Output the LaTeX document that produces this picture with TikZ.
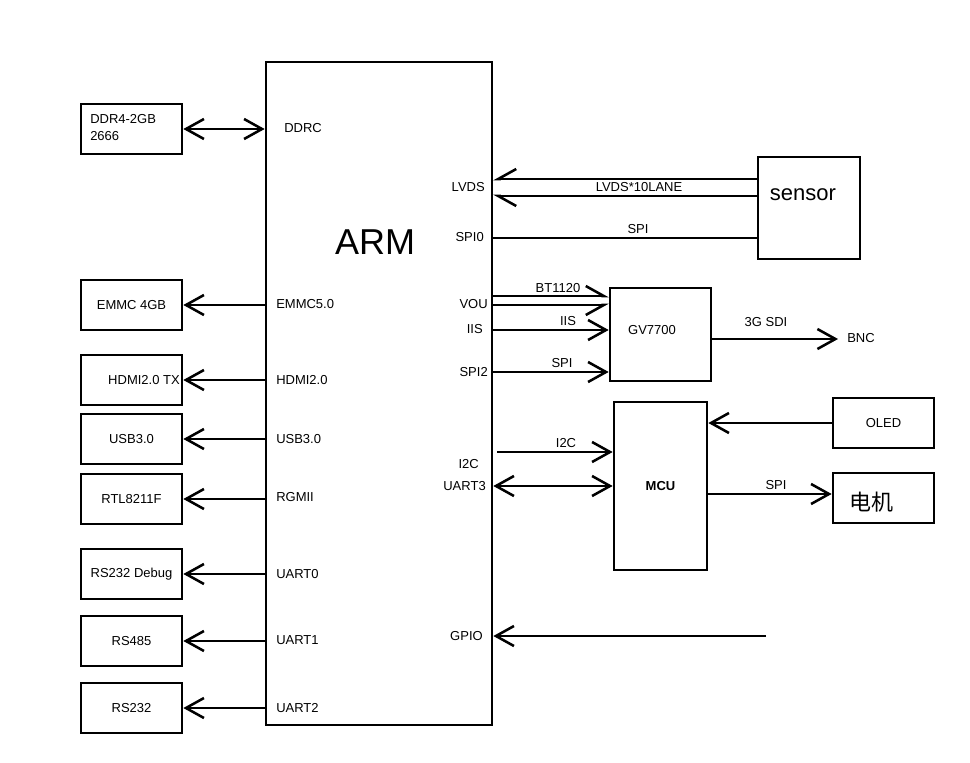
\documentclass[tikz,border=0pt]{standalone}
\usepackage{fontspec}
\setmainfont{Liberation Sans}
\newfontfamily\cjk{Noto Sans CJK SC}
\usetikzlibrary{arrows.meta,calc}
\begin{document}
\begin{tikzpicture}[x=0.75pt,y=-0.75pt,
  line width=1.9pt,
  lbl/.style={font=\fontsize{9.75pt}{11pt}\selectfont, inner sep=0pt},
  box/.style={draw, line width=2pt, rectangle, inner sep=0pt, font=\fontsize{9.75pt}{11pt}\selectfont},
  sz/.style 2 args={minimum width=#1*0.75pt, minimum height=#2*0.75pt},
  tip/.tip={Straight Barb[length=13.5pt,width=15pt,line width=1.9pt]},
  arr/.style={-tip},
  darr/.style={tip-tip},
  arrl/.style={-{Straight Barb[length=13.5pt,width=15pt,line width=1.9pt,left]}},
  arrr/.style={-{Straight Barb[length=13.5pt,width=15pt,line width=1.9pt,right]}}]
\useasboundingbox (0,0) rectangle (970,763);

% ARM
\node[box, sz={226}{663}] (arm) at (379,393.5) {};
\node[font=\fontsize{27pt}{30pt}\selectfont, inner sep=0pt] (armt) at (375,242) {ARM};

% left boxes
\node[box, sz={101}{50}] (ddr) at (131.5,129) {};
\node[lbl, anchor=west, align=left, font=\fontsize{9.75pt}{12.75pt}\selectfont] (ddrt) at (89,128) {DDR4-2GB\\2666};
\node[box, sz={101}{50}] (emmc) at (131.5,305) {EMMC 4GB};
\node[box, sz={101}{50}] (hdmi) at (131.5,380) {};
\node[lbl] (hdmit) at (144,380) {HDMI2.0 TX};
\node[box, sz={101}{50}] (usb) at (131.5,439) {USB3.0};
\node[box, sz={101}{50}] (rtl) at (131.5,499) {RTL8211F};
\node[box, sz={101}{50}] (dbg) at (131.5,574) {RS232 Debug};
\node[box, sz={101}{50}] (r485) at (131.5,641) {RS485};
\node[box, sz={101}{50}] (r232) at (131.5,708) {RS232};

% left connectors
\draw[darr] (ddr.east) -- (arm.west |- ddr.east);
\draw[arr] (arm.west |- emmc.east) -- (emmc.east);
\draw[arr] (arm.west |- hdmi.east) -- (hdmi.east);
\draw[arr] (arm.west |- usb.east) -- (usb.east);
\draw[arr] (arm.west |- rtl.east) -- (rtl.east);
\draw[arr] (arm.west |- dbg.east) -- (dbg.east);
\draw[arr] (arm.west |- r485.east) -- (r485.east);
\draw[arr] (arm.west |- r232.east) -- (r232.east);

% ARM left-side labels
\node[lbl, anchor=west] (l1) at (283,128) {DDRC};
\node[lbl, anchor=west] (l2) at (275,304) {EMMC5.0};
\node[lbl, anchor=west] (l3) at (275,380) {HDMI2.0};
\node[lbl, anchor=west] (l4) at (275,439) {USB3.0};
\node[lbl, anchor=west] (l5) at (275,497) {RGMII};
\node[lbl, anchor=west] (l6) at (275,574) {UART0};
\node[lbl, anchor=west] (l7) at (275,640) {UART1};
\node[lbl, anchor=west] (l8) at (275,708) {UART2};

% ARM right-side labels
\node[lbl, anchor=east] (r1) at (486,187) {LVDS};
\node[lbl, anchor=east] (r2) at (485,237) {SPI0};
\node[lbl, anchor=east] (r3) at (489,304) {VOU};
\node[lbl, anchor=east] (r4) at (484,329) {IIS};
\node[lbl, anchor=east] (r5) at (489,372) {SPI2};
\node[lbl, anchor=east] (r6) at (480,464) {I2C};
\node[lbl, anchor=east] (r7) at (487,486) {UART3};
\node[lbl, anchor=east] (r8) at (484,636) {GPIO};

% sensor
\node[box, sz={102}{102}] (sensor) at (809,208) {};
\node[font=\fontsize{16.5pt}{18pt}\selectfont, inner sep=0pt] (sensort) at (803,195) {sensor};
\draw[arrr] ($(sensor.west)+(0,-29)$) -- (arm.east |- {$(sensor.west)+(0,-29)$});
\draw[arrl] ($(sensor.west)+(0,-12)$) -- (arm.east |- {$(sensor.west)+(0,-12)$});
\draw ($(sensor.west)+(0,30)$) -- (arm.east |- {$(sensor.west)+(0,30)$});
\node[lbl] (lvdsl) at (639,187) {LVDS*10LANE};
\node[lbl] (spil) at (638,229) {SPI};

% GV7700
\node[box, sz={101}{93}] (gv) at (660.5,334.5) {};
\node[lbl] (gvt) at (652,330) {GV7700};
\draw[arrl] (arm.east |- {$(gv.west)+(0,-38.5)$}) -- ($(gv.west)+(0,-38.5)$);
\draw[arrr] (arm.east |- {$(gv.west)+(0,-29.5)$}) -- ($(gv.west)+(0,-29.5)$);
\draw[arr] (arm.east |- {$(gv.west)+(0,-4.5)$}) -- ($(gv.west)+(0,-4.5)$);
\draw[arr] (arm.east |- {$(gv.west)+(0,37.5)$}) -- ($(gv.west)+(0,37.5)$);
\node[lbl] (bt) at (558,288) {BT1120};
\node[lbl] (iisl) at (568,321) {IIS};
\node[lbl] (spi2l) at (562,363) {SPI};
\node[lbl, anchor=west, inner xsep=6pt] (bnc) at (838,338) {BNC};
\draw[arr] ($(gv.east)+(0,4.5)$) -- (bnc.west |- {$(gv.east)+(0,4.5)$});
\node[lbl] (sdil) at (766,322) {3G SDI};

% MCU
\node[box, sz={93}{168}, font=\fontsize{9.75pt}{11pt}\selectfont\bfseries] (mcu) at (660.5,486) {MCU};
\coordinate (i2cs) at (497,452);
\draw[arr] (i2cs) -- (mcu.west |- i2cs);
\node[lbl] (i2cl) at (566,443) {I2C};
\draw[darr] (arm.east |- mcu.west) -- (mcu.west);
\node[box, sz={101}{50}] (oled) at (883.5,423) {OLED};
\draw[arr] (oled.west) -- (mcu.east |- oled.west);
\node[box, sz={101}{50}] (motor) at (883.5,498) {};
\node[font=\fontsize{16.5pt}{18pt}\selectfont\cjk, inner sep=0pt] (motort) at (871,502) {电机};
\draw[arr] ($(mcu.east)+(0,8)$) -- (motor.west |- {$(mcu.east)+(0,8)$});
\node[lbl] (spim) at (776,485) {SPI};

% GPIO
\coordinate (gpios) at (766,636);
\draw[arr] (gpios) -- (arm.east |- gpios);
\end{tikzpicture}
\end{document}
